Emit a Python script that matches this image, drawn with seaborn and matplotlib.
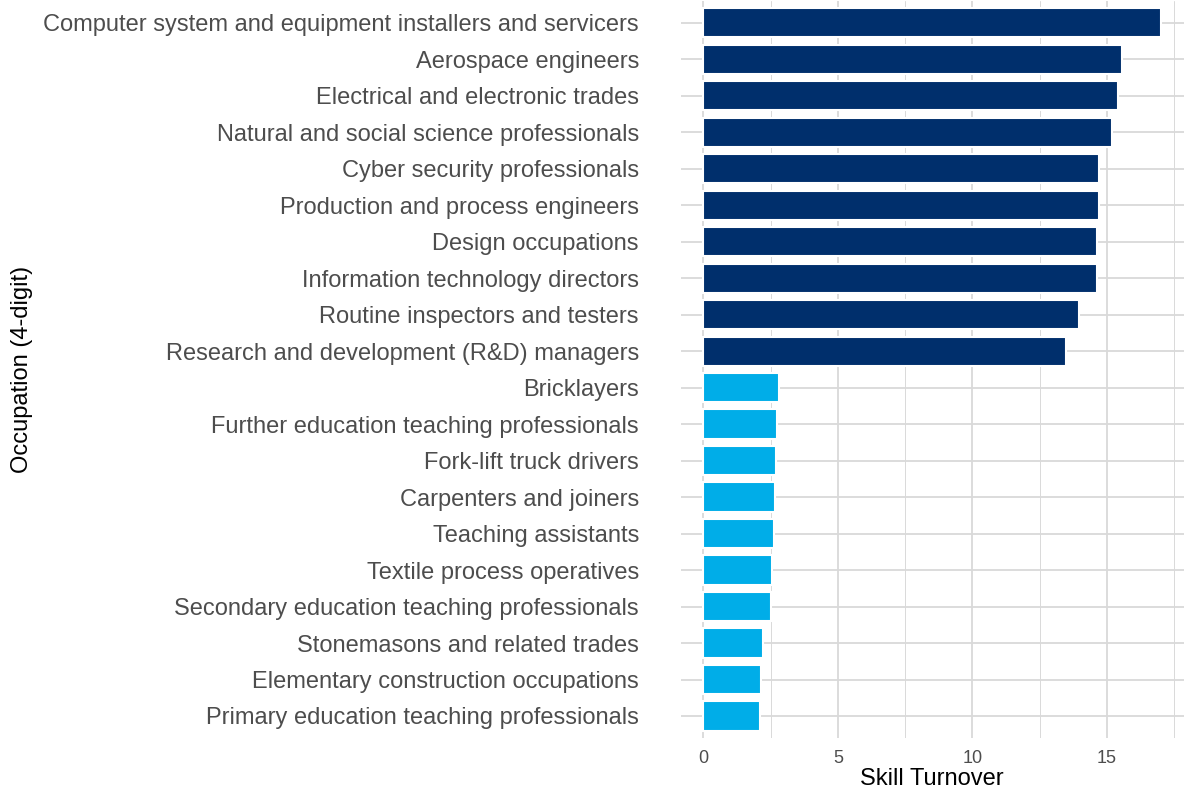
import matplotlib
matplotlib.use("Agg")
import matplotlib.pyplot as plt
import seaborn as sns
import pandas as pd

occupations = [
    "Computer system and equipment installers and servicers",
    "Aerospace engineers",
    "Electrical and electronic trades",
    "Natural and social science professionals",
    "Cyber security professionals",
    "Production and process engineers",
    "Design occupations",
    "Information technology directors",
    "Routine inspectors and testers",
    "Research and development (R&D) managers",
    "Bricklayers",
    "Further education teaching professionals",
    "Fork-lift truck drivers",
    "Carpenters and joiners",
    "Teaching assistants",
    "Textile process operatives",
    "Secondary education teaching professionals",
    "Stonemasons and related trades",
    "Elementary construction occupations",
    "Primary education teaching professionals",
]
skill_turnover = [17.01, 15.58, 15.40, 15.20, 14.73, 14.71, 14.65, 14.62, 13.95, 13.50,
                  2.81, 2.72, 2.70, 2.67, 2.62, 2.56, 2.52, 2.20, 2.15, 2.10]
groups = ["High"] * 10 + ["Low"] * 10
palette = {"High": "#002F6C", "Low": "#00ADE8"}

df = pd.DataFrame({"occ": occupations, "val": skill_turnover, "grp": groups})

sns.set_theme(style="white")
plt.rcParams["font.family"] = ["Liberation Sans", "DejaVu Sans"]

fig = plt.figure(figsize=(11.92, 7.96), dpi=100)
ax = fig.add_axes([0.571, 0.073, 0.422, 0.926])

sns.barplot(data=df, y="occ", x="val", hue="grp", palette=palette, dodge=False,
            saturation=1, width=0.8, edgecolor="white", linewidth=1.5,
            legend=False, ax=ax, zorder=3)

n = len(occupations)
xmax = max(skill_turnover)
ax.set_xlim(-0.05 * xmax, xmax * 1.05)
ax.set_ylim(n - 1 + 0.6, -0.6)

ax.set_xticks([0, 5, 10, 15])
ax.set_xticks([2.5, 7.5, 12.5, 17.5], minor=True)
ax.grid(which="major", axis="both", color="#d9d9d9", linewidth=1.3, zorder=0)
ax.grid(which="minor", axis="x", color="#d9d9d9", linewidth=0.7, zorder=0)
ax.set_axisbelow(True)
for s in ax.spines.values():
    s.set_visible(False)
ax.tick_params(axis="both", which="both", length=0)
ax.tick_params(axis="y", labelsize=17, labelcolor="#4d4d4d", pad=30)
ax.tick_params(axis="x", labelsize=13, labelcolor="#4d4d4d", pad=8.5)

ax.set_xlabel("Skill Turnover", fontsize=17, color="black", labelpad=1)
ax.set_ylabel("")
fig.text(22 / 1192, 1 - 369 / 796, "Occupation (4-digit)", rotation=90,
         ha="center", va="center", fontsize=17, color="black")

fig.savefig("out.png", dpi=100)
